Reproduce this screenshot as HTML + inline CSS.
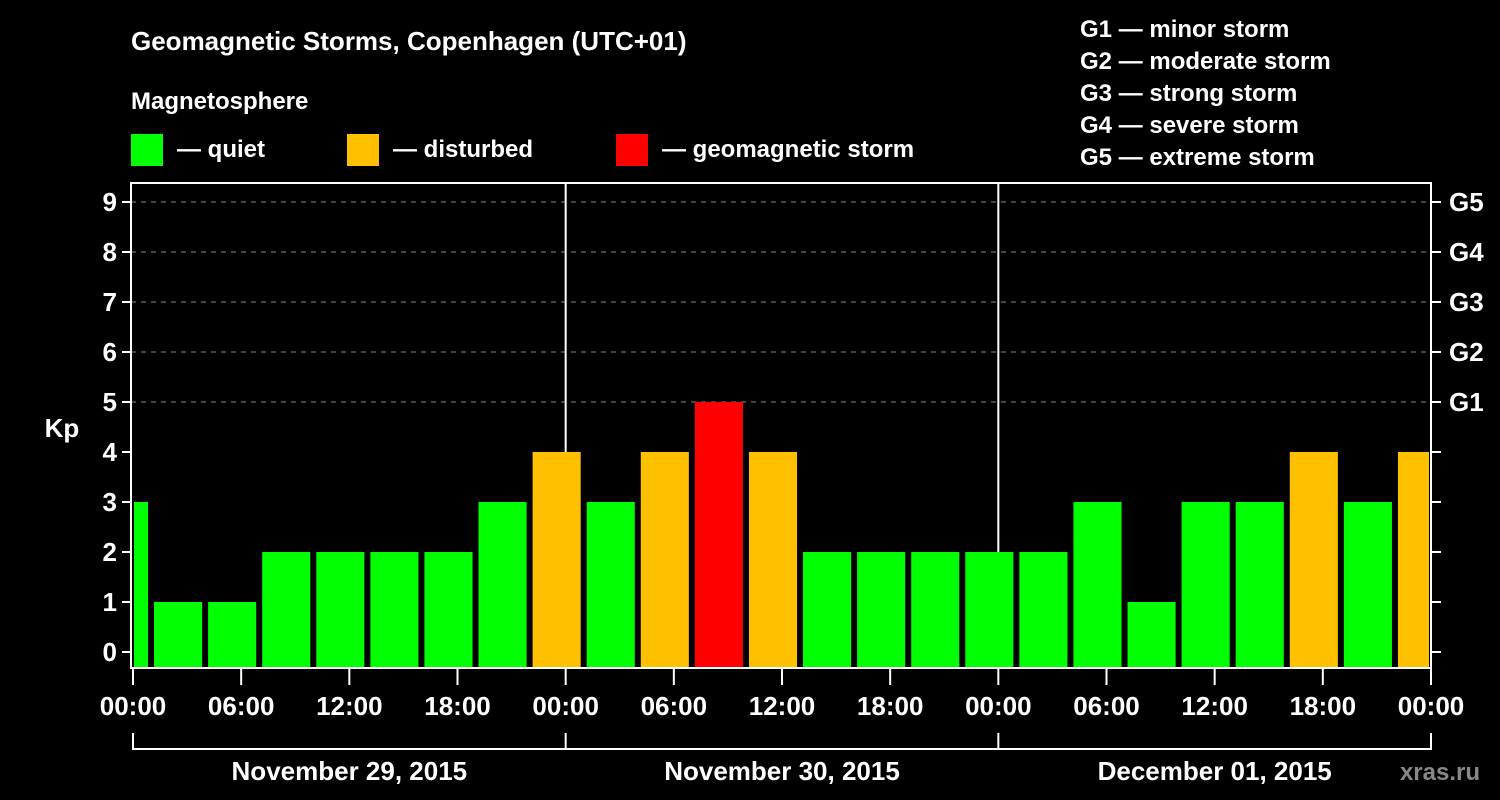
<!DOCTYPE html>
<html><head><meta charset="utf-8"><style>
html,body{margin:0;padding:0;background:#000;}
svg{display:block;font-family:"Liberation Sans",sans-serif;font-weight:bold;}
</style></head><body>
<svg id="chart" width="1500" height="800">
<text x="131" y="50" fill="#fff" font-size="26">Geomagnetic Storms, Copenhagen (UTC+01)</text>
<text x="131" y="109" fill="#fff" font-size="24">Magnetosphere</text>
<rect x="131" y="134" width="32" height="32" fill="#00ff00"/>
<text x="177" y="157" fill="#fff" font-size="24">— quiet</text>
<rect x="347" y="134" width="32" height="32" fill="#ffc000"/>
<text x="393" y="157" fill="#fff" font-size="24">— disturbed</text>
<rect x="616" y="134" width="32" height="32" fill="#ff0000"/>
<text x="662" y="157" fill="#fff" font-size="24">— geomagnetic storm</text>
<g fill="#fff" font-size="24">
<text x="1080" y="37">G1 — minor storm</text>
<text x="1080" y="69">G2 — moderate storm</text>
<text x="1080" y="101">G3 — strong storm</text>
<text x="1080" y="133">G4 — severe storm</text>
<text x="1080" y="165">G5 — extreme storm</text>
</g>
<text x="62" y="437" fill="#fff" font-size="26" text-anchor="middle">Kp</text>
<g id="grid"></g><g id="bars"></g><g id="axes"></g>
<text x="1480" y="780" fill="#888" font-size="24" text-anchor="end">xras.ru</text>
</svg>
<script>
const kpValues=[3,1,1,2,2,2,2,3,4,3,4,5,4,2,2,2,2,2,3,1,3,3,4,3,4];
const yTicks=[0,1,2,3,4,5,6,7,8,9];
const gLabels=["G1","G2","G3","G4","G5"];
const dayLabels=["November 29, 2015","November 30, 2015","December 01, 2015"];
const hourLabels=["00:00","06:00","12:00","18:00"];
const NS="http://www.w3.org/2000/svg";
const X0=131,X1=1431,YT=183,YB=668;
const hx=h=>133+h*(1298/72);
const ky=k=>652-50*k;
function mk(p,tag,a){const e=document.createElementNS(NS,tag);for(const k in a)e.setAttribute(k,a[k]);p.appendChild(e);return e;}
const grid=document.getElementById('grid'),bars=document.getElementById('bars'),axes=document.getElementById('axes');
yTicks.forEach(k=>{
 if(k>=5){const l=mk(grid,'line',{x1:X0,x2:X1,y1:ky(k),y2:ky(k),stroke:'#888','stroke-dasharray':'5,5','stroke-width':1});
 
 }
 const t=mk(axes,'line',{x1:X0-9,x2:X0,y1:ky(k),y2:ky(k),stroke:'#fff','stroke-width':2});
 
 
 const t2=mk(axes,'line',{x1:X1,x2:X1+10,y1:ky(k),y2:ky(k),stroke:'#fff','stroke-width':2});
 
 
 const tx=mk(axes,'text',{x:X0-14,y:ky(k)+9,fill:'#fff','font-size':26,'text-anchor':'end'});tx.textContent=k;
 
 
});
gLabels.forEach((g,i)=>{const t=mk(axes,'text',{x:1449,y:ky(5+i)+9,fill:'#fff','font-size':26});t.textContent=g;
 
 });
[1,2].forEach(d=>{const l=mk(grid,'line',{x1:hx(24*d),x2:hx(24*d),y1:YT,y2:YB,stroke:'#fff','stroke-width':2});
 
 });
kpValues.forEach((v,i)=>{
 let a=hx(-2+3*i)+3,b=hx(1+3*i)-3;a=Math.max(a,X0+3);b=Math.min(b,X1-2);
 const c=v>=5?'#ff0000':(v>=4?'#ffc000':'#00ff00');
 const r=mk(bars,'rect',{x:a,y:ky(v),width:b-a,height:YB-1-ky(v),fill:c});
 
 
});
const fr=mk(axes,'rect',{x:X0,y:YT,width:X1-X0,height:YB-YT,fill:'none',stroke:'#fff','stroke-width':2});


for(let h=0;h<=72;h+=6){
 const x=hx(h);
 const t=mk(axes,'line',{x1:x,x2:x,y1:YB,y2:YB+17,stroke:'#fff','stroke-width':2});
 
 
 const tx=mk(axes,'text',{x:x,y:715,fill:'#fff','font-size':26,'text-anchor':'middle'});tx.textContent=hourLabels[(h/6)%4];
 
 
}
const br=mk(axes,'line',{x1:hx(0),x2:hx(72),y1:749,y2:749,stroke:'#fff','stroke-width':2});


for(let d=0;d<=3;d++){const l=mk(axes,'line',{x1:hx(24*d),x2:hx(24*d),y1:733,y2:750,stroke:'#fff','stroke-width':2});
 
 }
dayLabels.forEach((s,d)=>{const t=mk(axes,'text',{x:hx(24*d+12),y:780,fill:'#fff','font-size':26,'text-anchor':'middle'});t.textContent=s;
 
 });
</script>
</body></html>
